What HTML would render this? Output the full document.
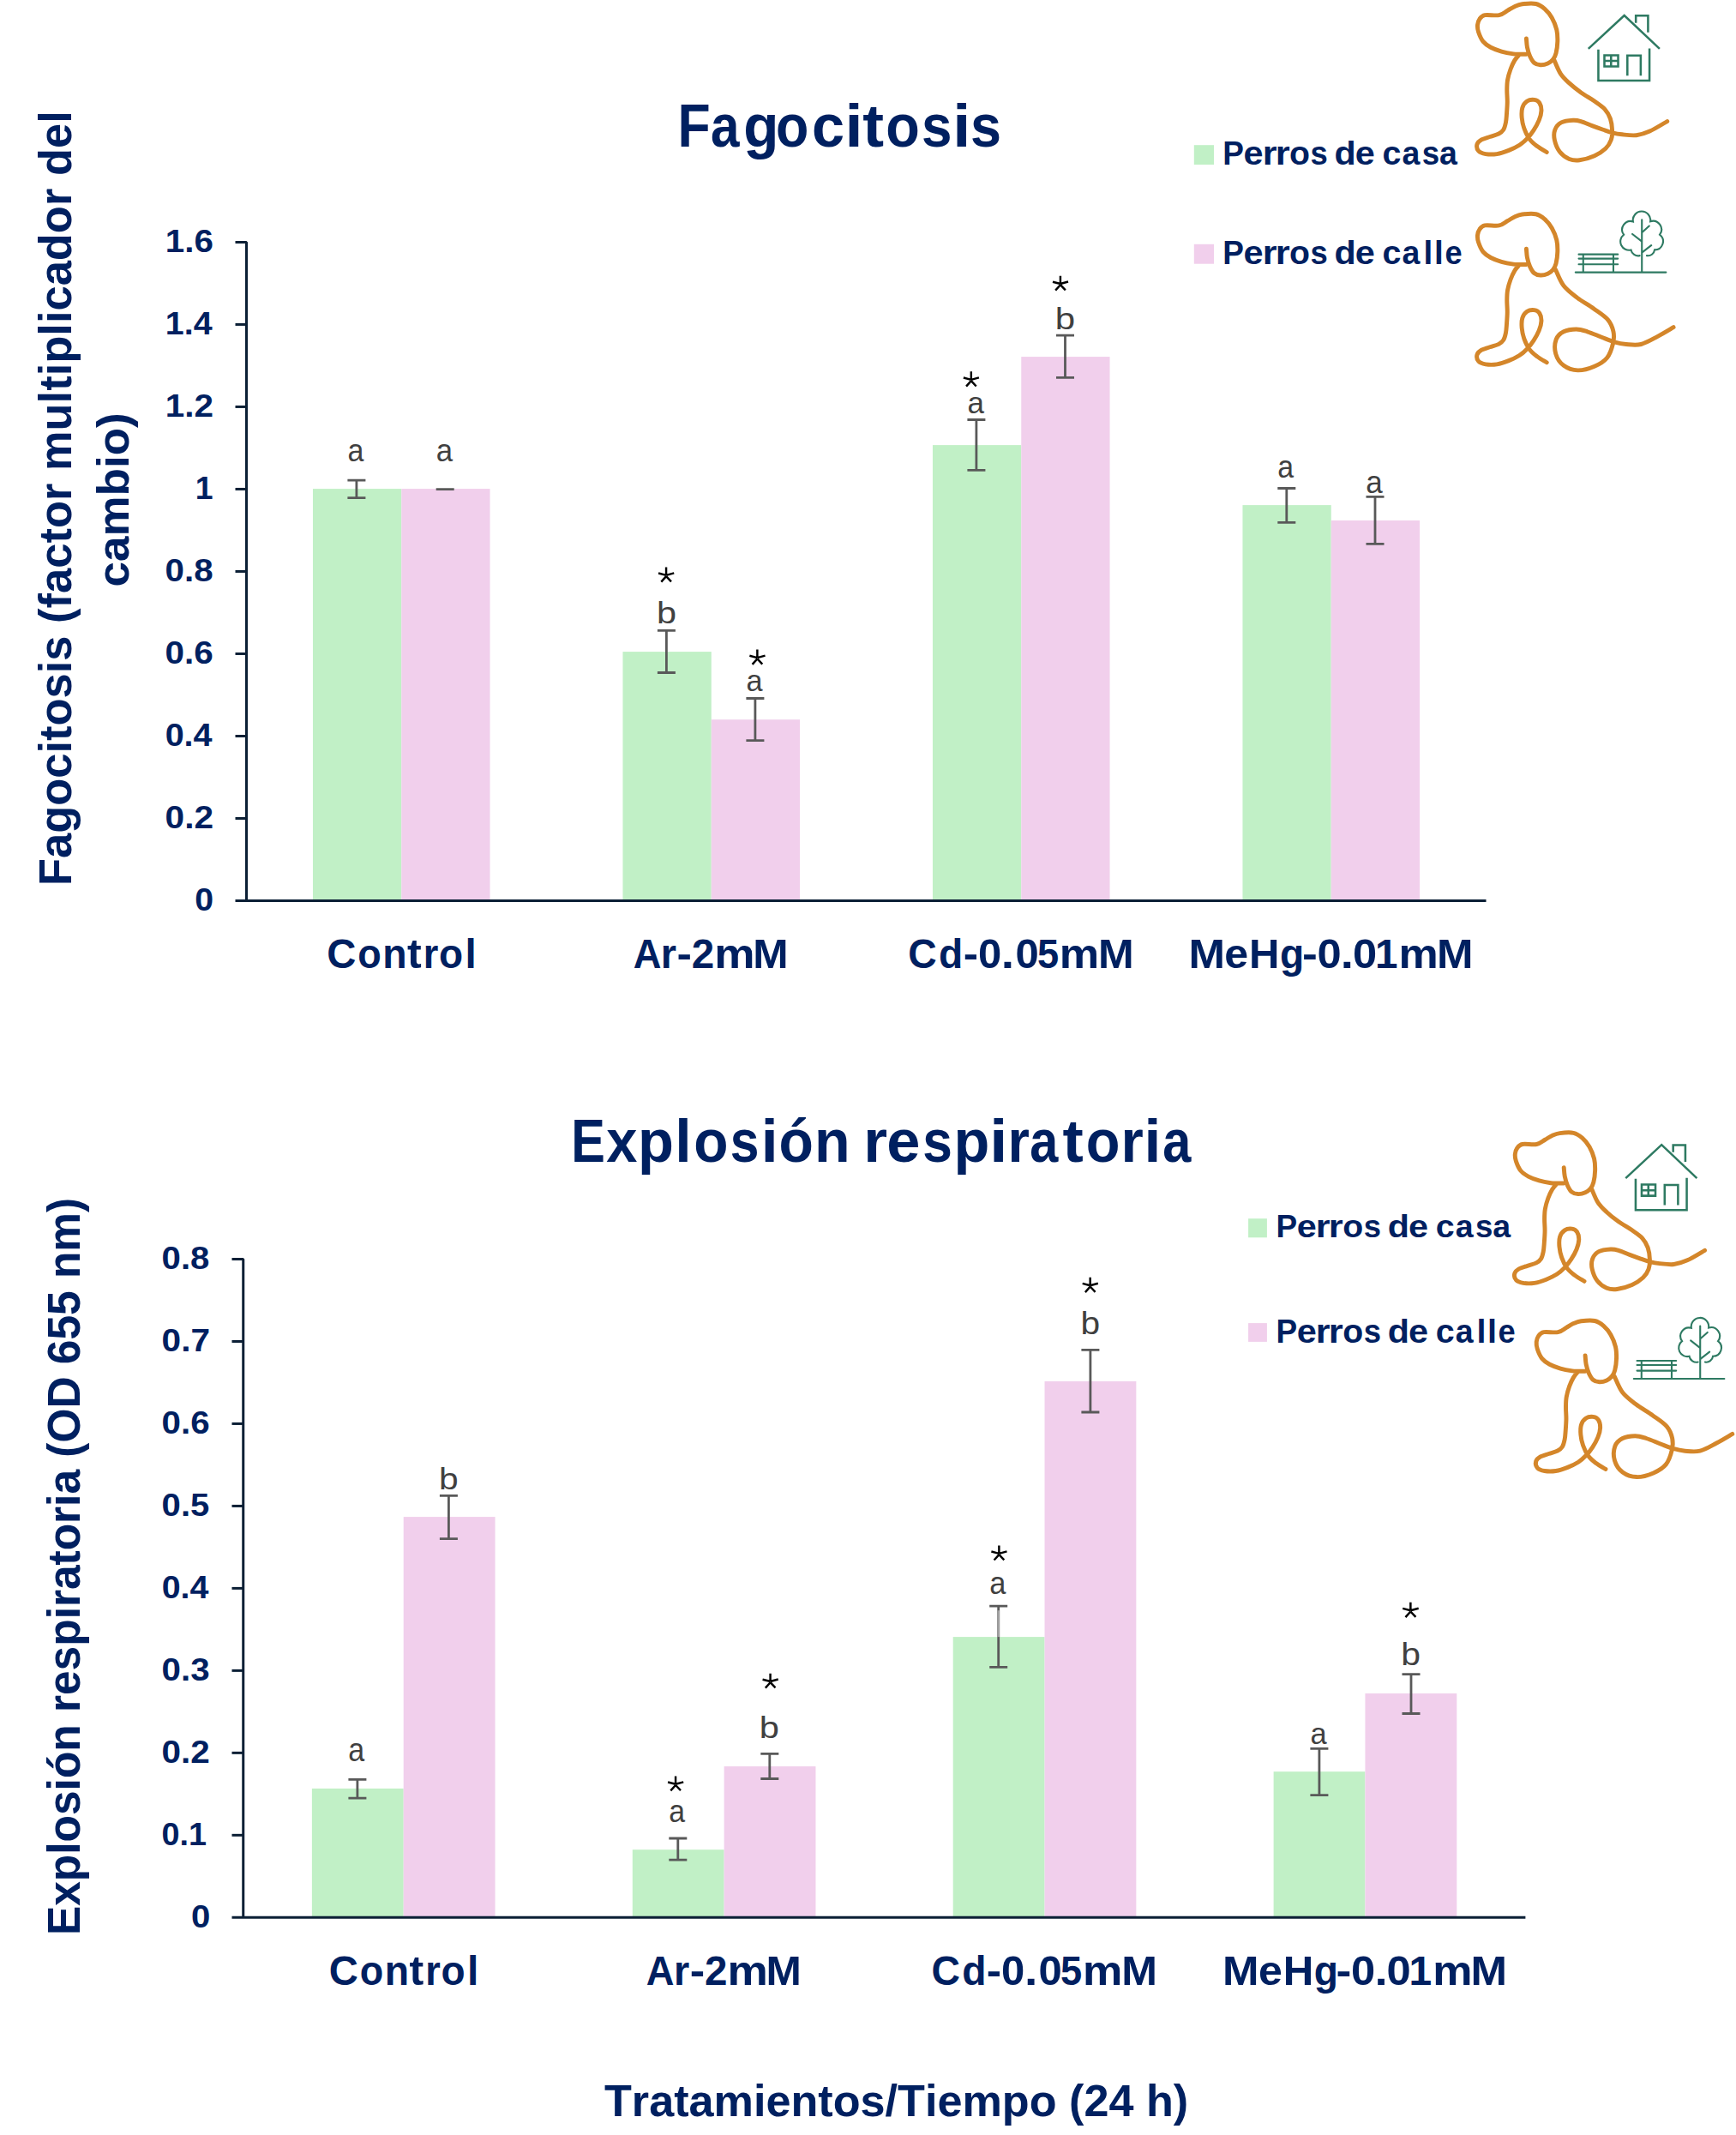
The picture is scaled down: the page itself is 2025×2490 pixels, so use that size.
<!DOCTYPE html>
<html><head><meta charset="utf-8"><style>
html,body{margin:0;padding:0;background:#fff;width:2025px;height:2490px;overflow:hidden}
svg{display:block}
text{font-family:"Liberation Sans",sans-serif;font-kerning:none;font-variant-ligatures:none}
</style></head><body>
<svg width="2025" height="2490" viewBox="0 0 2025 2490">
<rect width="2025" height="2490" fill="#fff"/>
<rect x="364.96" y="570.1" width="103.29" height="480.4" fill="#C1F0C6"/>
<rect x="468.25" y="570.1" width="103.29" height="480.4" fill="#F1CFEC"/>
<rect x="726.46" y="760.1" width="103.29" height="290.4" fill="#C1F0C6"/>
<rect x="829.75" y="839.2" width="103.29" height="211.3" fill="#F1CFEC"/>
<rect x="1087.96" y="519.1" width="103.29" height="531.4" fill="#C1F0C6"/>
<rect x="1191.25" y="416.1" width="103.29" height="634.4" fill="#F1CFEC"/>
<rect x="1449.46" y="589.1" width="103.29" height="461.4" fill="#C1F0C6"/>
<rect x="1552.75" y="607" width="103.29" height="443.5" fill="#F1CFEC"/>
<path d="M405.4 560.1H426.4M405.4 580.6H426.4M415.9 560.1V580.6" stroke="#595959" stroke-width="2.8" fill="none"/>
<path d="M508.7 570.6H529.7M508.7 570.6H529.7M519.2 570.6V570.6" stroke="#595959" stroke-width="2.8" fill="none"/>
<path d="M766.9 735.4H787.9M766.9 784.5H787.9M777.4 735.4V784.5" stroke="#595959" stroke-width="2.8" fill="none"/>
<path d="M870.4 814.5H891.4M870.4 863.6H891.4M880.9 814.5V863.6" stroke="#595959" stroke-width="2.8" fill="none"/>
<path d="M1128.4 489.5H1149.4M1128.4 548.4H1149.4M1138.9 489.5V548.4" stroke="#595959" stroke-width="2.8" fill="none"/>
<path d="M1232 391.1H1253M1232 440.3H1253M1242.5 391.1V440.3" stroke="#595959" stroke-width="2.8" fill="none"/>
<path d="M1490.3 569.5H1511.3M1490.3 609.3H1511.3M1500.8 569.5V609.3" stroke="#595959" stroke-width="2.8" fill="none"/>
<path d="M1593.5 579.3H1614.5M1593.5 634.3H1614.5M1604 579.3V634.3" stroke="#595959" stroke-width="2.8" fill="none"/>
<path d="M274.5 282.42H287.5V1050.5M274.5 1050.5H1733.5" stroke="#0B1F35" stroke-width="3" fill="none" stroke-linejoin="bevel"/>
<line x1="274.5" y1="954.49" x2="287.5" y2="954.49" stroke="#0B1F35" stroke-width="3"/>
<line x1="274.5" y1="858.48" x2="287.5" y2="858.48" stroke="#0B1F35" stroke-width="3"/>
<line x1="274.5" y1="762.47" x2="287.5" y2="762.47" stroke="#0B1F35" stroke-width="3"/>
<line x1="274.5" y1="666.46" x2="287.5" y2="666.46" stroke="#0B1F35" stroke-width="3"/>
<line x1="274.5" y1="570.45" x2="287.5" y2="570.45" stroke="#0B1F35" stroke-width="3"/>
<line x1="274.5" y1="474.44" x2="287.5" y2="474.44" stroke="#0B1F35" stroke-width="3"/>
<line x1="274.5" y1="378.43" x2="287.5" y2="378.43" stroke="#0B1F35" stroke-width="3"/>
<text transform="translate(227.2 1062) scale(1.0539 1)" font-size="37.21" font-weight="bold" fill="#002060">0</text>
<text transform="translate(192.59 965.99) scale(1.0909 1)" font-size="37.21" font-weight="bold" fill="#002060">0.2</text>
<text transform="translate(192.64 869.98) scale(1.0628 1)" font-size="37.21" font-weight="bold" fill="#002060">0.4</text>
<text transform="translate(192.6 773.97) scale(1.0877 1)" font-size="37.21" font-weight="bold" fill="#002060">0.6</text>
<text transform="translate(192.61 677.96) scale(1.0833 1)" font-size="37.21" font-weight="bold" fill="#002060">0.8</text>
<text transform="translate(227.64 581.95) scale(1.0049 1)" font-size="37.21" font-weight="bold" fill="#002060">1</text>
<text transform="translate(192.75 485.94) scale(1.0878 1)" font-size="37.21" font-weight="bold" fill="#002060">1.2</text>
<text transform="translate(192.82 389.93) scale(1.0593 1)" font-size="37.21" font-weight="bold" fill="#002060">1.4</text>
<text transform="translate(192.76 293.92) scale(1.0845 1)" font-size="37.21" font-weight="bold" fill="#002060">1.6</text>
<text transform="translate(405.45 537.83) scale(0.9105 1)" font-size="37.42" font-weight="normal" fill="#404040">a</text>
<text transform="translate(508.82 537.83) scale(0.9313 1)" font-size="37.42" font-weight="normal" fill="#404040">a</text>
<text transform="translate(765.93 727.25) scale(1.1593 1)" font-size="35.68" font-weight="normal" fill="#404040">b</text>
<path d="M777.07 661.4L777.07 670.83M768.08 668.52L777.07 670.83M786.22 668.34L777.07 670.83M771.3 678.58L777.07 672.08M783 678.4L777.07 672.08" stroke="#000" stroke-width="2.44" fill="none" stroke-linecap="butt" stroke-linejoin="round"/>
<text transform="translate(870.44 806.16) scale(0.9880 1)" font-size="34.68" font-weight="normal" fill="#404040">a</text>
<path d="M883.37 757.6L883.37 767.09M874.38 764.76L883.37 767.09M892.52 764.58L883.37 767.09M877.6 774.87L883.37 768.34M889.3 774.69L883.37 768.34" stroke="#000" stroke-width="2.44" fill="none" stroke-linecap="butt" stroke-linejoin="round"/>
<text transform="translate(1128.41 482.35) scale(0.9845 1)" font-size="35.59" font-weight="normal" fill="#404040">a</text>
<path d="M1132.82 433.3L1132.82 442.84M1123.88 440.5L1132.82 442.84M1141.92 440.32L1132.82 442.84M1127.08 450.67L1132.82 444.1M1138.72 450.49L1132.82 444.1" stroke="#000" stroke-width="2.42" fill="none" stroke-linecap="butt" stroke-linejoin="round"/>
<text transform="translate(1230.79 383.55) scale(1.1780 1)" font-size="35.68" font-weight="normal" fill="#404040">b</text>
<path d="M1236.92 321.7L1236.92 330.97M1227.98 328.7L1236.92 330.97M1246.02 328.52L1236.92 330.97M1231.18 338.59L1236.92 332.2M1242.82 338.41L1236.92 332.2" stroke="#000" stroke-width="2.43" fill="none" stroke-linecap="butt" stroke-linejoin="round"/>
<text transform="translate(1490.26 556.84) scale(0.9187 1)" font-size="36.87" font-weight="normal" fill="#404040">a</text>
<text transform="translate(1593.21 574.74) scale(0.9504 1)" font-size="36.87" font-weight="normal" fill="#404040">a</text>
<text transform="translate(381.36 1129) scale(0.9928 1)" font-size="47.6" font-weight="bold" fill="#002060">C</text>
<text transform="translate(417.24 1129) scale(0.9464 1)" font-size="47.6" font-weight="bold" fill="#002060">o</text>
<text transform="translate(446.34 1129) scale(0.9744 1)" font-size="47.6" font-weight="bold" fill="#002060">n</text>
<text transform="translate(474.89 1129) scale(1.0552 1)" font-size="47.6" font-weight="bold" fill="#002060">t</text>
<text transform="translate(493.83 1129) scale(0.9477 1)" font-size="47.6" font-weight="bold" fill="#002060">r</text>
<text transform="translate(512.1 1129) scale(0.9661 1)" font-size="47.6" font-weight="bold" fill="#002060">o</text>
<text transform="translate(542.48 1129) scale(1.0000 1)" font-size="47.6" font-weight="bold" fill="#002060">l</text>
<text transform="translate(738.67 1129) scale(0.9519 1)" font-size="47.6" font-weight="bold" fill="#002060">A</text>
<text transform="translate(770.82 1129) scale(0.9818 1)" font-size="47.6" font-weight="bold" fill="#002060">r</text>
<text transform="translate(789.45 1129) scale(1.1004 1)" font-size="47.6" font-weight="bold" fill="#002060">-</text>
<text transform="translate(806.85 1129) scale(0.9992 1)" font-size="47.6" font-weight="bold" fill="#002060">2</text>
<text transform="translate(833.29 1129) scale(1.1177 1)" font-size="47.6" font-weight="bold" fill="#002060">m</text>
<text transform="translate(878.18 1129) scale(1.0425 1)" font-size="47.6" font-weight="bold" fill="#002060">M</text>
<text transform="translate(1059.3 1129) scale(0.9736 1)" font-size="47.6" font-weight="bold" fill="#002060">C</text>
<text transform="translate(1095.1 1129) scale(0.9714 1)" font-size="47.6" font-weight="bold" fill="#002060">d</text>
<text transform="translate(1123.77 1129) scale(1.0921 1)" font-size="47.6" font-weight="bold" fill="#002060">-</text>
<text transform="translate(1140.96 1129) scale(1.0292 1)" font-size="47.6" font-weight="bold" fill="#002060">0</text>
<text transform="translate(1167.85 1129) scale(1.1612 1)" font-size="47.6" font-weight="bold" fill="#002060">.</text>
<text transform="translate(1184.46 1129) scale(1.0292 1)" font-size="47.6" font-weight="bold" fill="#002060">0</text>
<text transform="translate(1209.91 1129) scale(0.9500 1)" font-size="47.6" font-weight="bold" fill="#002060">5</text>
<text transform="translate(1235.86 1129) scale(1.0956 1)" font-size="47.6" font-weight="bold" fill="#002060">m</text>
<text transform="translate(1281.05 1129) scale(1.0515 1)" font-size="47.6" font-weight="bold" fill="#002060">M</text>
<text transform="translate(1386.38 1129) scale(1.0726 1)" font-size="47.6" font-weight="bold" fill="#002060">M</text>
<text transform="translate(1428.34 1129) scale(1.0527 1)" font-size="47.6" font-weight="bold" fill="#002060">e</text>
<text transform="translate(1457.01 1129) scale(1.0327 1)" font-size="47.6" font-weight="bold" fill="#002060">H</text>
<text transform="translate(1493.11 1129) scale(0.9691 1)" font-size="47.6" font-weight="bold" fill="#002060">g</text>
<text transform="translate(1518.91 1129) scale(1.1252 1)" font-size="47.6" font-weight="bold" fill="#002060">-</text>
<text transform="translate(1536.4 1129) scale(1.0645 1)" font-size="47.6" font-weight="bold" fill="#002060">0</text>
<text transform="translate(1563.7 1129) scale(1.1463 1)" font-size="47.6" font-weight="bold" fill="#002060">.</text>
<text transform="translate(1577.9 1129) scale(1.0645 1)" font-size="47.6" font-weight="bold" fill="#002060">0</text>
<text transform="translate(1603.93 1129) scale(1.0000 1)" font-size="47.6" font-weight="bold" fill="#002060">1</text>
<text transform="translate(1631.47 1129) scale(1.0928 1)" font-size="47.6" font-weight="bold" fill="#002060">m</text>
<text transform="translate(1675.88 1129) scale(1.0726 1)" font-size="47.6" font-weight="bold" fill="#002060">M</text>
<text transform="translate(790.42 171.25) scale(0.8818 1)" font-size="70.86" font-weight="bold" fill="#002060">F</text>
<text transform="translate(828.93 171.25) scale(0.8500 1)" font-size="70.86" font-weight="bold" fill="#002060">a</text>
<text transform="translate(867.34 171.25) scale(0.9513 1)" font-size="70.86" font-weight="bold" fill="#002060">g</text>
<text transform="translate(905.05 171.25) scale(0.8848 1)" font-size="70.86" font-weight="bold" fill="#002060">o</text>
<text transform="translate(946.93 171.25) scale(0.9663 1)" font-size="70.86" font-weight="bold" fill="#002060">c</text>
<text transform="translate(985.61 171.25) scale(1.0697 1)" font-size="70.86" font-weight="bold" fill="#002060">i</text>
<text transform="translate(1006.19 171.25) scale(1.0518 1)" font-size="70.86" font-weight="bold" fill="#002060">t</text>
<text transform="translate(1033.37 171.25) scale(0.9140 1)" font-size="70.86" font-weight="bold" fill="#002060">o</text>
<text transform="translate(1075.06 171.25) scale(0.8997 1)" font-size="70.86" font-weight="bold" fill="#002060">s</text>
<text transform="translate(1111.21 171.25) scale(1.0697 1)" font-size="70.86" font-weight="bold" fill="#002060">i</text>
<text transform="translate(1132.12 171.25) scale(0.9144 1)" font-size="70.86" font-weight="bold" fill="#002060">s</text>
<text transform="translate(83.3 1029.5) rotate(-90) translate(-3.51 0) scale(0.9946 1)" font-size="52.76" font-weight="bold" fill="#002060">Fagocitosis (factor multiplicador del</text>
<text transform="translate(150 682.4) rotate(-90) translate(-2.07 0) scale(1.0101 1)" font-size="52.47" font-weight="bold" fill="#002060">cambio)</text>
<rect x="1392.8" y="169.2" width="23.2" height="22.8" fill="#C1F0C6"/>
<rect x="1392.8" y="284.8" width="23.2" height="22.9" fill="#F1CFEC"/>
<text transform="translate(1426.23 192) scale(0.9481 1)" font-size="38.95" font-weight="bold" fill="#002060">P</text>
<text transform="translate(1450.48 192) scale(1.0632 1)" font-size="38.95" font-weight="bold" fill="#002060">e</text>
<text transform="translate(1472.65 192) scale(1.1081 1)" font-size="38.95" font-weight="bold" fill="#002060">r</text>
<text transform="translate(1487.63 192) scale(1.1165 1)" font-size="38.95" font-weight="bold" fill="#002060">r</text>
<text transform="translate(1503.97 192) scale(1.0072 1)" font-size="38.95" font-weight="bold" fill="#002060">o</text>
<text transform="translate(1528.52 192) scale(0.9360 1)" font-size="38.95" font-weight="bold" fill="#002060">s</text>
<text transform="translate(1556.51 192) scale(1.0596 1)" font-size="38.95" font-weight="bold" fill="#002060">d</text>
<text transform="translate(1580.78 192) scale(1.0632 1)" font-size="38.95" font-weight="bold" fill="#002060">e</text>
<text transform="translate(1612.56 192) scale(1.0104 1)" font-size="38.95" font-weight="bold" fill="#002060">c</text>
<text transform="translate(1635.6 192) scale(0.9629 1)" font-size="38.95" font-weight="bold" fill="#002060">a</text>
<text transform="translate(1658.71 192) scale(0.9413 1)" font-size="38.95" font-weight="bold" fill="#002060">s</text>
<text transform="translate(1679 192) scale(0.9629 1)" font-size="38.95" font-weight="bold" fill="#002060">a</text>
<text transform="translate(1426.23 307.7) scale(0.9552 1)" font-size="38.66" font-weight="bold" fill="#002060">P</text>
<text transform="translate(1450.48 307.7) scale(1.0712 1)" font-size="38.66" font-weight="bold" fill="#002060">e</text>
<text transform="translate(1472.65 307.7) scale(1.1165 1)" font-size="38.66" font-weight="bold" fill="#002060">r</text>
<text transform="translate(1487.63 307.7) scale(1.1249 1)" font-size="38.66" font-weight="bold" fill="#002060">r</text>
<text transform="translate(1503.97 307.7) scale(1.0147 1)" font-size="38.66" font-weight="bold" fill="#002060">o</text>
<text transform="translate(1528.52 307.7) scale(0.9430 1)" font-size="38.66" font-weight="bold" fill="#002060">s</text>
<text transform="translate(1556.51 307.7) scale(1.0676 1)" font-size="38.66" font-weight="bold" fill="#002060">d</text>
<text transform="translate(1580.78 307.7) scale(1.0712 1)" font-size="38.66" font-weight="bold" fill="#002060">e</text>
<text transform="translate(1612.56 307.7) scale(1.0180 1)" font-size="38.66" font-weight="bold" fill="#002060">c</text>
<text transform="translate(1635.6 307.7) scale(0.9701 1)" font-size="38.66" font-weight="bold" fill="#002060">a</text>
<text transform="translate(1660.4 307.7) scale(1.0000 1)" font-size="38.66" font-weight="bold" fill="#002060">l</text>
<text transform="translate(1672.9 307.7) scale(1.0000 1)" font-size="38.66" font-weight="bold" fill="#002060">l</text>
<text transform="translate(1685.38 307.7) scale(0.9373 1)" font-size="38.66" font-weight="bold" fill="#002060">e</text>
<rect x="363.87" y="2085.9" width="106.83" height="150.4" fill="#C1F0C6"/>
<rect x="470.71" y="1769.1" width="106.83" height="467.2" fill="#F1CFEC"/>
<rect x="737.79" y="2157.2" width="106.83" height="79.1" fill="#C1F0C6"/>
<rect x="844.62" y="2060.1" width="106.83" height="176.2" fill="#F1CFEC"/>
<rect x="1111.7" y="1909.1" width="106.83" height="327.2" fill="#C1F0C6"/>
<rect x="1218.53" y="1611" width="106.83" height="625.3" fill="#F1CFEC"/>
<rect x="1485.61" y="2066.2" width="106.83" height="170.1" fill="#C1F0C6"/>
<rect x="1592.44" y="1975" width="106.83" height="261.3" fill="#F1CFEC"/>
<path d="M406.4 2075.4H427.4M406.4 2097.1H427.4M416.9 2075.4V2097.1" stroke="#595959" stroke-width="2.8" fill="none"/>
<path d="M512.9 1744.4H533.9M512.9 1794.6H533.9M523.4 1744.4V1794.6" stroke="#595959" stroke-width="2.8" fill="none"/>
<path d="M780.3 2144H801.3M780.3 2169.1H801.3M790.8 2144V2169.1" stroke="#595959" stroke-width="2.8" fill="none"/>
<path d="M887.3 2045.3H908.3M887.3 2074.5H908.3M897.8 2045.3V2074.5" stroke="#595959" stroke-width="2.8" fill="none"/>
<path d="M1154.2 1873.2H1175.2M1154.2 1944.4H1175.2M1164.7 1873.2V1944.4" stroke="#595959" stroke-width="2.8" fill="none"/>
<path d="M1261.4 1574.4H1282.4M1261.4 1647H1282.4M1271.9 1574.4V1647" stroke="#595959" stroke-width="2.8" fill="none"/>
<path d="M1528.4 2039.3H1549.4M1528.4 2093.6H1549.4M1538.9 2039.3V2093.6" stroke="#595959" stroke-width="2.8" fill="none"/>
<path d="M1635.5 1952.6H1656.5M1635.5 1998.5H1656.5M1646 1952.6V1998.5" stroke="#595959" stroke-width="2.8" fill="none"/>
<path d="M270.5 1468.5H283.75V2236.3M270.5 2236.3H1779.4" stroke="#0B1F35" stroke-width="3" fill="none" stroke-linejoin="bevel"/>
<line x1="270.5" y1="2140.33" x2="283.75" y2="2140.33" stroke="#0B1F35" stroke-width="3"/>
<line x1="270.5" y1="2044.35" x2="283.75" y2="2044.35" stroke="#0B1F35" stroke-width="3"/>
<line x1="270.5" y1="1948.38" x2="283.75" y2="1948.38" stroke="#0B1F35" stroke-width="3"/>
<line x1="270.5" y1="1852.4" x2="283.75" y2="1852.4" stroke="#0B1F35" stroke-width="3"/>
<line x1="270.5" y1="1756.43" x2="283.75" y2="1756.43" stroke="#0B1F35" stroke-width="3"/>
<line x1="270.5" y1="1660.45" x2="283.75" y2="1660.45" stroke="#0B1F35" stroke-width="3"/>
<line x1="270.5" y1="1564.48" x2="283.75" y2="1564.48" stroke="#0B1F35" stroke-width="3"/>
<text transform="translate(222.91 2247.8) scale(1.0793 1)" font-size="37.21" font-weight="bold" fill="#002060">0</text>
<text transform="translate(188.5 2151.83) scale(1.0159 1)" font-size="37.21" font-weight="bold" fill="#002060">0.1</text>
<text transform="translate(188.6 2055.85) scale(1.0868 1)" font-size="37.21" font-weight="bold" fill="#002060">0.2</text>
<text transform="translate(188.61 1959.88) scale(1.0836 1)" font-size="37.21" font-weight="bold" fill="#002060">0.3</text>
<text transform="translate(188.64 1863.9) scale(1.0588 1)" font-size="37.21" font-weight="bold" fill="#002060">0.4</text>
<text transform="translate(188.62 1767.93) scale(1.0768 1)" font-size="37.21" font-weight="bold" fill="#002060">0.5</text>
<text transform="translate(188.61 1671.95) scale(1.0836 1)" font-size="37.21" font-weight="bold" fill="#002060">0.6</text>
<text transform="translate(188.6 1575.98) scale(1.0901 1)" font-size="37.21" font-weight="bold" fill="#002060">0.7</text>
<text transform="translate(188.61 1480) scale(1.0792 1)" font-size="37.21" font-weight="bold" fill="#002060">0.8</text>
<line x1="1164.7" y1="1878.2" x2="1164.7" y2="1909.1" stroke="#A0A0A0" stroke-width="2.8"/>
<text transform="translate(406.25 2053.73) scale(0.8930 1)" font-size="38.15" font-weight="normal" fill="#404040">a</text>
<text transform="translate(512.08 1736.55) scale(1.1406 1)" font-size="35.68" font-weight="normal" fill="#404040">b</text>
<text transform="translate(780.26 2124.64) scale(0.9142 1)" font-size="37.05" font-weight="normal" fill="#404040">a</text>
<path d="M788.07 2071.5L788.07 2080.78M779.08 2078.5L788.07 2080.78M797.22 2078.32L788.07 2080.78M782.3 2088.39L788.07 2082M794 2088.21L788.07 2082" stroke="#000" stroke-width="2.44" fill="none" stroke-linecap="butt" stroke-linejoin="round"/>
<text transform="translate(885.82 2027.25) scale(1.1655 1)" font-size="35.68" font-weight="normal" fill="#404040">b</text>
<path d="M898.57 1951.7L898.57 1960.98M889.58 1958.7L898.57 1960.98M907.72 1958.53L898.57 1960.98M892.8 1968.59L898.57 1962.2M904.5 1968.41L898.57 1962.2" stroke="#000" stroke-width="2.44" fill="none" stroke-linecap="butt" stroke-linejoin="round"/>
<text transform="translate(1154.24 1859.34) scale(0.9392 1)" font-size="36.69" font-weight="normal" fill="#404040">a</text>
<path d="M1165.37 1802.5L1165.37 1811.83M1156.38 1809.54L1165.37 1811.83M1174.52 1809.36L1165.37 1811.83M1159.6 1819.48L1165.37 1813.06M1171.3 1819.31L1165.37 1813.06" stroke="#000" stroke-width="2.44" fill="none" stroke-linecap="butt" stroke-linejoin="round"/>
<text transform="translate(1260.58 1556.04) scale(1.1068 1)" font-size="36.77" font-weight="normal" fill="#404040">b</text>
<path d="M1271.67 1489.7L1271.67 1499.24M1262.68 1496.9L1271.67 1499.24M1280.82 1496.72L1271.67 1499.24M1265.9 1507.07L1271.67 1500.5M1277.6 1506.89L1271.67 1500.5" stroke="#000" stroke-width="2.44" fill="none" stroke-linecap="butt" stroke-linejoin="round"/>
<text transform="translate(1528.44 2033.65) scale(0.9583 1)" font-size="35.96" font-weight="normal" fill="#404040">a</text>
<text transform="translate(1634.36 1942.35) scale(1.1339 1)" font-size="36.09" font-weight="normal" fill="#404040">b</text>
<path d="M1645.37 1868.7L1645.37 1878.24M1636.2 1875.9L1645.37 1878.24M1654.7 1875.72L1645.37 1878.24M1639.48 1886.07L1645.37 1879.5M1651.42 1885.89L1645.37 1879.5" stroke="#000" stroke-width="2.49" fill="none" stroke-linecap="butt" stroke-linejoin="round"/>
<text transform="translate(383.86 2315) scale(0.9853 1)" font-size="47.97" font-weight="bold" fill="#002060">C</text>
<text transform="translate(419.74 2315) scale(0.9393 1)" font-size="47.97" font-weight="bold" fill="#002060">o</text>
<text transform="translate(448.84 2315) scale(0.9670 1)" font-size="47.97" font-weight="bold" fill="#002060">n</text>
<text transform="translate(477.39 2315) scale(1.0472 1)" font-size="47.97" font-weight="bold" fill="#002060">t</text>
<text transform="translate(496.33 2315) scale(0.9406 1)" font-size="47.97" font-weight="bold" fill="#002060">r</text>
<text transform="translate(514.6 2315) scale(0.9588 1)" font-size="47.97" font-weight="bold" fill="#002060">o</text>
<text transform="translate(544.95 2315) scale(1.0000 1)" font-size="47.97" font-weight="bold" fill="#002060">l</text>
<text transform="translate(753.87 2315) scale(0.9447 1)" font-size="47.97" font-weight="bold" fill="#002060">A</text>
<text transform="translate(786.02 2315) scale(0.9744 1)" font-size="47.97" font-weight="bold" fill="#002060">r</text>
<text transform="translate(804.65 2315) scale(1.0921 1)" font-size="47.97" font-weight="bold" fill="#002060">-</text>
<text transform="translate(822.05 2315) scale(0.9916 1)" font-size="47.97" font-weight="bold" fill="#002060">2</text>
<text transform="translate(848.49 2315) scale(1.1092 1)" font-size="47.97" font-weight="bold" fill="#002060">m</text>
<text transform="translate(893.38 2315) scale(1.0346 1)" font-size="47.97" font-weight="bold" fill="#002060">M</text>
<text transform="translate(1086.4 2315) scale(0.9662 1)" font-size="47.97" font-weight="bold" fill="#002060">C</text>
<text transform="translate(1122.2 2315) scale(0.9640 1)" font-size="47.97" font-weight="bold" fill="#002060">d</text>
<text transform="translate(1150.87 2315) scale(1.0838 1)" font-size="47.97" font-weight="bold" fill="#002060">-</text>
<text transform="translate(1168.06 2315) scale(1.0214 1)" font-size="47.97" font-weight="bold" fill="#002060">0</text>
<text transform="translate(1194.95 2315) scale(1.1524 1)" font-size="47.97" font-weight="bold" fill="#002060">.</text>
<text transform="translate(1211.56 2315) scale(1.0214 1)" font-size="47.97" font-weight="bold" fill="#002060">0</text>
<text transform="translate(1237.01 2315) scale(0.9428 1)" font-size="47.97" font-weight="bold" fill="#002060">5</text>
<text transform="translate(1262.96 2315) scale(1.0873 1)" font-size="47.97" font-weight="bold" fill="#002060">m</text>
<text transform="translate(1308.15 2315) scale(1.0436 1)" font-size="47.97" font-weight="bold" fill="#002060">M</text>
<text transform="translate(1426.08 2315) scale(1.0644 1)" font-size="47.97" font-weight="bold" fill="#002060">M</text>
<text transform="translate(1468.04 2315) scale(1.0448 1)" font-size="47.97" font-weight="bold" fill="#002060">e</text>
<text transform="translate(1496.71 2315) scale(1.0249 1)" font-size="47.97" font-weight="bold" fill="#002060">H</text>
<text transform="translate(1532.81 2315) scale(0.9617 1)" font-size="47.97" font-weight="bold" fill="#002060">g</text>
<text transform="translate(1558.61 2315) scale(1.1167 1)" font-size="47.97" font-weight="bold" fill="#002060">-</text>
<text transform="translate(1576.1 2315) scale(1.0565 1)" font-size="47.97" font-weight="bold" fill="#002060">0</text>
<text transform="translate(1603.4 2315) scale(1.1376 1)" font-size="47.97" font-weight="bold" fill="#002060">.</text>
<text transform="translate(1617.6 2315) scale(1.0565 1)" font-size="47.97" font-weight="bold" fill="#002060">0</text>
<text transform="translate(1643.52 2315) scale(1.0000 1)" font-size="47.97" font-weight="bold" fill="#002060">1</text>
<text transform="translate(1671.17 2315) scale(1.0845 1)" font-size="47.97" font-weight="bold" fill="#002060">m</text>
<text transform="translate(1715.58 2315) scale(1.0644 1)" font-size="47.97" font-weight="bold" fill="#002060">M</text>
<text transform="translate(666.25 1355) scale(0.8500 1)" font-size="69.91" font-weight="bold" fill="#002060">E</text>
<text transform="translate(707.16 1355) scale(0.9289 1)" font-size="69.91" font-weight="bold" fill="#002060">x</text>
<text transform="translate(743.97 1355) scale(0.9821 1)" font-size="69.91" font-weight="bold" fill="#002060">p</text>
<text transform="translate(787.32 1355) scale(1.0000 1)" font-size="69.91" font-weight="bold" fill="#002060">l</text>
<text transform="translate(809.33 1355) scale(0.9424 1)" font-size="69.91" font-weight="bold" fill="#002060">o</text>
<text transform="translate(851.77 1355) scale(0.8672 1)" font-size="69.91" font-weight="bold" fill="#002060">s</text>
<text transform="translate(887.81 1355) scale(1.0216 1)" font-size="69.91" font-weight="bold" fill="#002060">i</text>
<text transform="translate(908.62 1355) scale(0.9451 1)" font-size="69.91" font-weight="bold" fill="#002060">ó</text>
<text transform="translate(949.91 1355) scale(0.9745 1)" font-size="69.91" font-weight="bold" fill="#002060">n</text>
<text transform="translate(1007.29 1355) scale(1.0213 1)" font-size="69.91" font-weight="bold" fill="#002060">r</text>
<text transform="translate(1034.15 1355) scale(1.0070 1)" font-size="69.91" font-weight="bold" fill="#002060">e</text>
<text transform="translate(1076.21 1355) scale(0.8910 1)" font-size="69.91" font-weight="bold" fill="#002060">s</text>
<text transform="translate(1112.49 1355) scale(0.9793 1)" font-size="69.91" font-weight="bold" fill="#002060">p</text>
<text transform="translate(1154.31 1355) scale(1.0842 1)" font-size="69.91" font-weight="bold" fill="#002060">i</text>
<text transform="translate(1175.5 1355) scale(0.9331 1)" font-size="69.91" font-weight="bold" fill="#002060">r</text>
<text transform="translate(1201.32 1355) scale(0.8500 1)" font-size="69.91" font-weight="bold" fill="#002060">a</text>
<text transform="translate(1239.61 1355) scale(1.0429 1)" font-size="69.91" font-weight="bold" fill="#002060">t</text>
<text transform="translate(1266.76 1355) scale(0.9290 1)" font-size="69.91" font-weight="bold" fill="#002060">o</text>
<text transform="translate(1307.45 1355) scale(0.9656 1)" font-size="69.91" font-weight="bold" fill="#002060">r</text>
<text transform="translate(1334.61 1355) scale(1.0216 1)" font-size="69.91" font-weight="bold" fill="#002060">i</text>
<text transform="translate(1356.26 1355) scale(0.8504 1)" font-size="69.91" font-weight="bold" fill="#002060">a</text>
<text transform="translate(93.3 2253.6) rotate(-90) translate(-3.44 0) scale(0.9750 1)" font-size="52.76" font-weight="bold" fill="#002060">Explosión respiratoria (OD 655 nm)</text>
<text transform="translate(705.01 2467.75) scale(1.0112 1)" font-size="51.6" font-weight="bold" fill="#002060">Tratamientos/Tiempo (24 h)</text>
<rect x="1456.1" y="1421.2" width="21.8" height="22.1" fill="#C1F0C6"/>
<rect x="1456.1" y="1543.1" width="21.8" height="21.8" fill="#F1CFEC"/>
<text transform="translate(1488.43 1443.3) scale(0.9925 1)" font-size="37.21" font-weight="bold" fill="#002060">P</text>
<text transform="translate(1512.68 1443.3) scale(1.1130 1)" font-size="37.21" font-weight="bold" fill="#002060">e</text>
<text transform="translate(1534.85 1443.3) scale(1.1601 1)" font-size="37.21" font-weight="bold" fill="#002060">r</text>
<text transform="translate(1549.83 1443.3) scale(1.1688 1)" font-size="37.21" font-weight="bold" fill="#002060">r</text>
<text transform="translate(1566.17 1443.3) scale(1.0544 1)" font-size="37.21" font-weight="bold" fill="#002060">o</text>
<text transform="translate(1590.72 1443.3) scale(0.9798 1)" font-size="37.21" font-weight="bold" fill="#002060">s</text>
<text transform="translate(1618.71 1443.3) scale(1.1093 1)" font-size="37.21" font-weight="bold" fill="#002060">d</text>
<text transform="translate(1642.98 1443.3) scale(1.1130 1)" font-size="37.21" font-weight="bold" fill="#002060">e</text>
<text transform="translate(1674.76 1443.3) scale(1.0578 1)" font-size="37.21" font-weight="bold" fill="#002060">c</text>
<text transform="translate(1697.8 1443.3) scale(1.0080 1)" font-size="37.21" font-weight="bold" fill="#002060">a</text>
<text transform="translate(1720.91 1443.3) scale(0.9854 1)" font-size="37.21" font-weight="bold" fill="#002060">s</text>
<text transform="translate(1741.2 1443.3) scale(1.0080 1)" font-size="37.21" font-weight="bold" fill="#002060">a</text>
<text transform="translate(1488.43 1566.3) scale(0.9341 1)" font-size="39.54" font-weight="bold" fill="#002060">P</text>
<text transform="translate(1512.68 1566.3) scale(1.0476 1)" font-size="39.54" font-weight="bold" fill="#002060">e</text>
<text transform="translate(1534.85 1566.3) scale(1.0919 1)" font-size="39.54" font-weight="bold" fill="#002060">r</text>
<text transform="translate(1549.83 1566.3) scale(1.1001 1)" font-size="39.54" font-weight="bold" fill="#002060">r</text>
<text transform="translate(1566.17 1566.3) scale(0.9923 1)" font-size="39.54" font-weight="bold" fill="#002060">o</text>
<text transform="translate(1590.72 1566.3) scale(0.9222 1)" font-size="39.54" font-weight="bold" fill="#002060">s</text>
<text transform="translate(1618.71 1566.3) scale(1.0441 1)" font-size="39.54" font-weight="bold" fill="#002060">d</text>
<text transform="translate(1642.98 1566.3) scale(1.0476 1)" font-size="39.54" font-weight="bold" fill="#002060">e</text>
<text transform="translate(1674.76 1566.3) scale(0.9956 1)" font-size="39.54" font-weight="bold" fill="#002060">c</text>
<text transform="translate(1697.8 1566.3) scale(0.9487 1)" font-size="39.54" font-weight="bold" fill="#002060">a</text>
<text transform="translate(1722.54 1566.3) scale(1.0000 1)" font-size="39.54" font-weight="bold" fill="#002060">l</text>
<text transform="translate(1735.04 1566.3) scale(1.0000 1)" font-size="39.54" font-weight="bold" fill="#002060">l</text>
<text transform="translate(1747.58 1566.3) scale(0.9166 1)" font-size="39.54" font-weight="bold" fill="#002060">e</text>
<path transform="translate(1700 0) scale(0.14977 0.14977)" d="M537 300C538.2 311.5 539.3 346 544 369C548.7 392 556 418 565 438C574 458 584.2 477.7 598 489C611.8 500.3 630.3 505.2 648 506C665.7 506.8 687.8 501.3 704 494C720.2 486.7 734.3 475.2 745 462C755.7 448.8 762.2 438.2 768 415C773.8 391.8 779.2 353.7 780 323C780.8 292.3 780.3 261.8 773 231C765.7 200.2 751.5 165 736 138C720.5 111 700.7 87 680 69C659.3 51 641.2 36.2 612 30C582.8 23.8 532.8 28.5 505 32C477.2 35.5 464.2 42.5 445 51C425.8 59.5 410 71.8 390 83C370 94.2 354.3 112.2 325 118C295.7 123.8 239.3 113 214 118C188.7 123 182.5 135.3 173 148C163.5 160.7 158.5 177.2 157 194C155.5 210.8 156.8 227.5 164 249C171.2 270.5 184 303 200 323C216 343 236 356 260 369C284 382 314.7 392.5 344 401C373.3 409.5 413 416.5 436 420C459 423.5 465 421.7 482 422C499 422.3 528.7 422 538 422M483 424C476.8 431.7 457.5 450.8 446 470C434.5 489.2 423.2 513.7 414 539C404.8 564.3 395.7 595 391 622C386.3 649 386.3 672.5 386 701C385.7 729.5 389.3 762.3 389 793C388.7 823.7 386 858.2 384 885C382 911.8 381.2 933.2 377 954C372.8 974.8 368.2 995.3 359 1010C349.8 1024.7 339.7 1032.8 322 1042C304.3 1051.2 275.3 1057.3 253 1065C230.7 1072.7 204.7 1078 188 1088C171.3 1098 156.8 1110.3 153 1125C149.2 1139.7 153.8 1163.7 165 1176C176.2 1188.3 196.2 1195.2 220 1199C243.8 1202.8 278 1203.7 308 1199C338 1194.3 370.8 1182.5 400 1171C429.2 1159.5 459.2 1145.3 483 1130C506.8 1114.7 524.5 1098.3 543 1079C561.5 1059.7 578.5 1037.8 594 1014C609.5 990.2 626 961.3 636 936C646 910.7 653.3 884.3 654 862C654.7 839.7 649.2 816.2 640 802C630.8 787.8 615.2 779.3 599 777C582.8 774.7 558.5 777.7 543 788C527.5 798.3 512.8 817.5 506 839C499.2 860.5 499.7 890.2 502 917C504.3 943.8 510 972.2 520 1000C530 1027.8 545 1060.8 562 1084C579 1107.2 599.7 1122.2 622 1139C644.3 1155.8 683.7 1177.3 696 1185M754 468C762.2 485.5 783.5 543.2 803 573C822.5 602.8 844.3 622.3 871 647C897.7 671.7 930.2 697.5 963 721C995.8 744.5 1037.2 766.5 1068 788C1098.8 809.5 1127.5 827.3 1148 850C1168.5 872.7 1181.3 896.3 1191 924C1200.7 951.7 1205 988.3 1206 1016C1207 1043.7 1205.7 1066.5 1197 1090C1188.3 1113.5 1175.5 1136.5 1154 1157C1132.5 1177.5 1101.8 1198 1068 1213C1034.2 1228 983.8 1242.8 951 1247C918.2 1251.2 896.7 1248.8 871 1238C845.3 1227.2 816 1206.7 797 1182C778 1157.3 763.2 1118.7 757 1090C750.8 1061.3 751.3 1032.7 760 1010C768.7 987.3 785.5 966.3 809 954C832.5 941.7 875.3 937.5 901 936C926.7 934.5 938.3 937.8 963 945C987.7 952.2 1020.3 968.2 1049 979C1077.7 989.8 1108.3 1000.8 1135 1010C1161.7 1019.2 1184.3 1027.8 1209 1034C1233.7 1040.2 1252.2 1043.8 1283 1047C1313.8 1050.2 1358.2 1057.2 1394 1053C1429.8 1048.8 1458 1040 1498 1022C1538 1004 1611.3 957.8 1634 945" fill="none" stroke="#D4862A" stroke-width="33" stroke-linecap="round" stroke-linejoin="round"/>
<path transform="translate(1700 0) scale(0.14977)" d="M1020 380L1300 120L1575 380M1390 178V122H1485V252M1098 385V628H1496V378M1145 430H1252V517H1145ZM1197 430V517M1145 474H1252M1324 590V432H1428V590" fill="none" stroke="#2E7A62" stroke-width="17" stroke-linecap="butt" stroke-linejoin="miter"/>
<g transform="translate(1700 230)"><path transform="translate(0 0) scale(0.14977 0.14977)" d="M537 402C538.2 413.5 539.3 448 544 471C548.7 494 556 520 565 540C574 560 584.2 579.7 598 591C611.8 602.3 630.3 607.2 648 608C665.7 608.8 687.8 603.3 704 596C720.2 588.7 734.3 577.2 745 564C755.7 550.8 762.2 540.2 768 517C773.8 493.8 779.2 455.7 780 425C780.8 394.3 780.3 363.8 773 333C765.7 302.2 751.5 267 736 240C720.5 213 700.7 189 680 171C659.3 153 641.2 138.2 612 132C582.8 125.8 532.8 130.5 505 134C477.2 137.5 464.2 144.5 445 153C425.8 161.5 410 173.8 390 185C370 196.2 354.3 214.2 325 220C295.7 225.8 239.3 215 214 220C188.7 225 182.5 237.3 173 250C163.5 262.7 158.5 279.2 157 296C155.5 312.8 156.8 329.5 164 351C171.2 372.5 184 405 200 425C216 445 236 458 260 471C284 484 314.7 494.5 344 503C373.3 511.5 413 518.5 436 522C459 525.5 465 523.7 482 524C499 524.3 528.7 524 538 524M483 526C476.8 533.7 457.5 552.8 446 572C434.5 591.2 423.2 615.7 414 641C404.8 666.3 395.7 697 391 724C386.3 751 386.3 774.5 386 803C385.7 831.5 389.3 864.3 389 895C388.7 925.7 386 960.2 384 987C382 1013.8 381.2 1035.2 377 1056C372.8 1076.8 368.2 1097.3 359 1112C349.8 1126.7 339.7 1134.8 322 1144C304.3 1153.2 275.3 1159.3 253 1167C230.7 1174.7 204.7 1180 188 1190C171.3 1200 156.8 1212.3 153 1227C149.2 1241.7 153.8 1265.7 165 1278C176.2 1290.3 196.2 1297.2 220 1301C243.8 1304.8 278 1305.7 308 1301C338 1296.3 370.8 1284.5 400 1273C429.2 1261.5 459.2 1247.3 483 1232C506.8 1216.7 524.5 1200.3 543 1181C561.5 1161.7 578.5 1139.8 594 1116C609.5 1092.2 626 1063.3 636 1038C646 1012.7 653.3 986.3 654 964C654.7 941.7 649.2 918.2 640 904C630.8 889.8 615.2 881.3 599 879C582.8 876.7 558.5 879.7 543 890C527.5 900.3 512.8 919.5 506 941C499.2 962.5 499.7 992.2 502 1019C504.3 1045.8 510 1074.2 520 1102C530 1129.8 545 1162.8 562 1186C579 1209.2 599.7 1224.2 622 1241C644.3 1257.8 683.7 1279.3 696 1287M766 567C776.3 587.5 800.3 654.2 828 690C855.7 725.8 893 752.3 932 782C971 811.7 1022 839.3 1062 868C1102 896.7 1146.5 924.2 1172 954C1197.5 983.8 1208.3 1016.2 1215 1047C1221.7 1077.8 1220.2 1105.2 1212 1139C1203.8 1172.8 1190 1220.3 1166 1250C1142 1279.7 1106 1300.7 1068 1317C1030 1333.3 978 1349 938 1348C898 1347 856.7 1332.5 828 1311C799.3 1289.5 775.8 1252.8 766 1219C756.2 1185.2 758.7 1136.7 769 1108C779.3 1079.3 801.8 1060.3 828 1047C854.2 1033.7 895.3 1028 926 1028C956.7 1028 979.2 1036.7 1012 1047C1044.8 1057.3 1088 1076.7 1123 1090C1158 1103.3 1190.2 1117.8 1222 1127C1253.8 1136.2 1279.2 1142 1314 1145C1348.8 1148 1390 1155.2 1431 1145C1472 1134.8 1518 1106 1560 1084C1602 1062 1662.5 1024.8 1683 1013" fill="none" stroke="#D4862A" stroke-width="33" stroke-linecap="round" stroke-linejoin="round"/><path transform="translate(0 0) scale(0.14977)" d="M920 585H1625M945 445H1250M945 478H1250M945 522H1250M980 445V585M1215 445V585M1437 175V585M1437 275L1494 224M1363 287L1437 345M1437 432L1510 375M1420 455A56.5 56.5 0 0 1 1352 410A66.8 66.8 0 0 1 1296 292A65.8 65.8 0 0 1 1368 190A68.3 68.3 0 1 1 1503 188A66.8 66.8 0 0 1 1576 292A65.7 65.7 0 0 1 1536 410A51.8 51.8 0 0 1 1475 455" fill="none" stroke="#2E7A62" stroke-width="14" stroke-linecap="round"/></g>
<g transform="translate(1745 1300)"><path transform="translate(-1.2 16.8) scale(0.14977 0.14977)" d="M537 300C538.2 311.5 539.3 346 544 369C548.7 392 556 418 565 438C574 458 584.2 477.7 598 489C611.8 500.3 630.3 505.2 648 506C665.7 506.8 687.8 501.3 704 494C720.2 486.7 734.3 475.2 745 462C755.7 448.8 762.2 438.2 768 415C773.8 391.8 779.2 353.7 780 323C780.8 292.3 780.3 261.8 773 231C765.7 200.2 751.5 165 736 138C720.5 111 700.7 87 680 69C659.3 51 641.2 36.2 612 30C582.8 23.8 532.8 28.5 505 32C477.2 35.5 464.2 42.5 445 51C425.8 59.5 410 71.8 390 83C370 94.2 354.3 112.2 325 118C295.7 123.8 239.3 113 214 118C188.7 123 182.5 135.3 173 148C163.5 160.7 158.5 177.2 157 194C155.5 210.8 156.8 227.5 164 249C171.2 270.5 184 303 200 323C216 343 236 356 260 369C284 382 314.7 392.5 344 401C373.3 409.5 413 416.5 436 420C459 423.5 465 421.7 482 422C499 422.3 528.7 422 538 422M483 424C476.8 431.7 457.5 450.8 446 470C434.5 489.2 423.2 513.7 414 539C404.8 564.3 395.7 595 391 622C386.3 649 386.3 672.5 386 701C385.7 729.5 389.3 762.3 389 793C388.7 823.7 386 858.2 384 885C382 911.8 381.2 933.2 377 954C372.8 974.8 368.2 995.3 359 1010C349.8 1024.7 339.7 1032.8 322 1042C304.3 1051.2 275.3 1057.3 253 1065C230.7 1072.7 204.7 1078 188 1088C171.3 1098 156.8 1110.3 153 1125C149.2 1139.7 153.8 1163.7 165 1176C176.2 1188.3 196.2 1195.2 220 1199C243.8 1202.8 278 1203.7 308 1199C338 1194.3 370.8 1182.5 400 1171C429.2 1159.5 459.2 1145.3 483 1130C506.8 1114.7 524.5 1098.3 543 1079C561.5 1059.7 578.5 1037.8 594 1014C609.5 990.2 626 961.3 636 936C646 910.7 653.3 884.3 654 862C654.7 839.7 649.2 816.2 640 802C630.8 787.8 615.2 779.3 599 777C582.8 774.7 558.5 777.7 543 788C527.5 798.3 512.8 817.5 506 839C499.2 860.5 499.7 890.2 502 917C504.3 943.8 510 972.2 520 1000C530 1027.8 545 1060.8 562 1084C579 1107.2 599.7 1122.2 622 1139C644.3 1155.8 683.7 1177.3 696 1185M754 468C762.2 485.5 783.5 543.2 803 573C822.5 602.8 844.3 622.3 871 647C897.7 671.7 930.2 697.5 963 721C995.8 744.5 1037.2 766.5 1068 788C1098.8 809.5 1127.5 827.3 1148 850C1168.5 872.7 1181.3 896.3 1191 924C1200.7 951.7 1205 988.3 1206 1016C1207 1043.7 1205.7 1066.5 1197 1090C1188.3 1113.5 1175.5 1136.5 1154 1157C1132.5 1177.5 1101.8 1198 1068 1213C1034.2 1228 983.8 1242.8 951 1247C918.2 1251.2 896.7 1248.8 871 1238C845.3 1227.2 816 1206.7 797 1182C778 1157.3 763.2 1118.7 757 1090C750.8 1061.3 751.3 1032.7 760 1010C768.7 987.3 785.5 966.3 809 954C832.5 941.7 875.3 937.5 901 936C926.7 934.5 938.3 937.8 963 945C987.7 952.2 1020.3 968.2 1049 979C1077.7 989.8 1108.3 1000.8 1135 1010C1161.7 1019.2 1184.3 1027.8 1209 1034C1233.7 1040.2 1252.2 1043.8 1283 1047C1313.8 1050.2 1358.2 1057.2 1394 1053C1429.8 1048.8 1458 1040 1498 1022C1538 1004 1611.3 957.8 1634 945" fill="none" stroke="#D4862A" stroke-width="33" stroke-linecap="round" stroke-linejoin="round"/><path transform="translate(-1.5 17.2) scale(0.14977)" d="M1020 380L1300 120L1575 380M1390 178V122H1485V252M1098 385V628H1496V378M1145 430H1252V517H1145ZM1197 430V517M1145 474H1252M1324 590V432H1428V590" fill="none" stroke="#2E7A62" stroke-width="17" stroke-linecap="butt" stroke-linejoin="miter"/></g>
<g transform="translate(1765 1520)"><path transform="translate(3.7 0.7) scale(0.14977 0.14977)" d="M537 402C538.2 413.5 539.3 448 544 471C548.7 494 556 520 565 540C574 560 584.2 579.7 598 591C611.8 602.3 630.3 607.2 648 608C665.7 608.8 687.8 603.3 704 596C720.2 588.7 734.3 577.2 745 564C755.7 550.8 762.2 540.2 768 517C773.8 493.8 779.2 455.7 780 425C780.8 394.3 780.3 363.8 773 333C765.7 302.2 751.5 267 736 240C720.5 213 700.7 189 680 171C659.3 153 641.2 138.2 612 132C582.8 125.8 532.8 130.5 505 134C477.2 137.5 464.2 144.5 445 153C425.8 161.5 410 173.8 390 185C370 196.2 354.3 214.2 325 220C295.7 225.8 239.3 215 214 220C188.7 225 182.5 237.3 173 250C163.5 262.7 158.5 279.2 157 296C155.5 312.8 156.8 329.5 164 351C171.2 372.5 184 405 200 425C216 445 236 458 260 471C284 484 314.7 494.5 344 503C373.3 511.5 413 518.5 436 522C459 525.5 465 523.7 482 524C499 524.3 528.7 524 538 524M483 526C476.8 533.7 457.5 552.8 446 572C434.5 591.2 423.2 615.7 414 641C404.8 666.3 395.7 697 391 724C386.3 751 386.3 774.5 386 803C385.7 831.5 389.3 864.3 389 895C388.7 925.7 386 960.2 384 987C382 1013.8 381.2 1035.2 377 1056C372.8 1076.8 368.2 1097.3 359 1112C349.8 1126.7 339.7 1134.8 322 1144C304.3 1153.2 275.3 1159.3 253 1167C230.7 1174.7 204.7 1180 188 1190C171.3 1200 156.8 1212.3 153 1227C149.2 1241.7 153.8 1265.7 165 1278C176.2 1290.3 196.2 1297.2 220 1301C243.8 1304.8 278 1305.7 308 1301C338 1296.3 370.8 1284.5 400 1273C429.2 1261.5 459.2 1247.3 483 1232C506.8 1216.7 524.5 1200.3 543 1181C561.5 1161.7 578.5 1139.8 594 1116C609.5 1092.2 626 1063.3 636 1038C646 1012.7 653.3 986.3 654 964C654.7 941.7 649.2 918.2 640 904C630.8 889.8 615.2 881.3 599 879C582.8 876.7 558.5 879.7 543 890C527.5 900.3 512.8 919.5 506 941C499.2 962.5 499.7 992.2 502 1019C504.3 1045.8 510 1074.2 520 1102C530 1129.8 545 1162.8 562 1186C579 1209.2 599.7 1224.2 622 1241C644.3 1257.8 683.7 1279.3 696 1287M766 567C776.3 587.5 800.3 654.2 828 690C855.7 725.8 893 752.3 932 782C971 811.7 1022 839.3 1062 868C1102 896.7 1146.5 924.2 1172 954C1197.5 983.8 1208.3 1016.2 1215 1047C1221.7 1077.8 1220.2 1105.2 1212 1139C1203.8 1172.8 1190 1220.3 1166 1250C1142 1279.7 1106 1300.7 1068 1317C1030 1333.3 978 1349 938 1348C898 1347 856.7 1332.5 828 1311C799.3 1289.5 775.8 1252.8 766 1219C756.2 1185.2 758.7 1136.7 769 1108C779.3 1079.3 801.8 1060.3 828 1047C854.2 1033.7 895.3 1028 926 1028C956.7 1028 979.2 1036.7 1012 1047C1044.8 1057.3 1088 1076.7 1123 1090C1158 1103.3 1190.2 1117.8 1222 1127C1253.8 1136.2 1279.2 1142 1314 1145C1348.8 1148 1390 1155.2 1431 1145C1472 1134.8 1518 1106 1560 1084C1602 1062 1662.5 1024.8 1683 1013" fill="none" stroke="#D4862A" stroke-width="33" stroke-linecap="round" stroke-linejoin="round"/><path transform="translate(3 0.4) scale(0.14977)" d="M920 585H1625M945 445H1250M945 478H1250M945 522H1250M980 445V585M1215 445V585M1437 175V585M1437 275L1494 224M1363 287L1437 345M1437 432L1510 375M1420 455A56.5 56.5 0 0 1 1352 410A66.8 66.8 0 0 1 1296 292A65.8 65.8 0 0 1 1368 190A68.3 68.3 0 1 1 1503 188A66.8 66.8 0 0 1 1576 292A65.7 65.7 0 0 1 1536 410A51.8 51.8 0 0 1 1475 455" fill="none" stroke="#2E7A62" stroke-width="14" stroke-linecap="round"/></g>
</svg></body></html>
